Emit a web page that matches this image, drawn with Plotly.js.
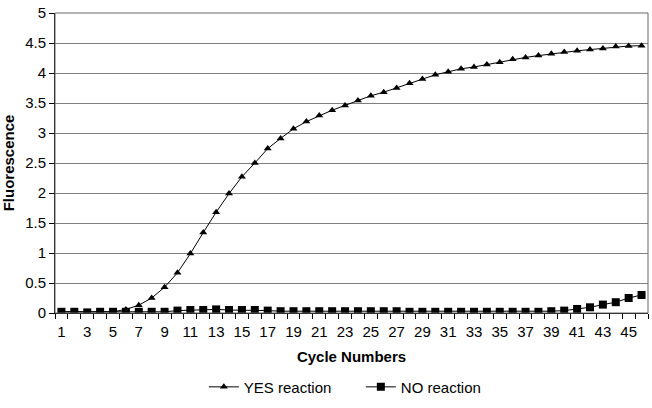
<!DOCTYPE html>
<html>
<head>
<meta charset="utf-8">
<script src="https://cdn.plot.ly/plotly-3.0.1.min.js"></script>
<style>html,body{margin:0;padding:0;background:#fff;}#chart{width:652px;height:408px;}</style>
</head>
<body>
<div id="chart"></div>
<script>
const cycles = [];
for (let i = 1; i <= 46; i++) cycles.push(i);

const yesReaction = [0.02,0.02,0.01,0.01,0.02,0.06,0.13,0.25,0.43,0.67,
  0.99,1.34,1.68,1.99,2.27,2.5,2.74,2.91,3.07,3.19,
  3.29,3.38,3.46,3.54,3.62,3.68,3.75,3.83,3.9,3.97,
  4.02,4.07,4.1,4.14,4.18,4.23,4.26,4.29,4.32,4.35,
  4.37,4.39,4.41,4.44,4.45,4.455];

const noReaction = [0.02,0.02,0.01,0.02,0.02,0.02,0.02,0.02,0.02,0.04,
  0.05,0.05,0.06,0.05,0.05,0.05,0.04,0.03,0.03,0.03,
  0.03,0.03,0.03,0.03,0.03,0.03,0.03,0.02,0.02,0.02,
  0.02,0.02,0.02,0.02,0.02,0.02,0.02,0.02,0.03,0.04,
  0.067,0.095,0.14,0.18,0.25,0.3];

const xTickVals = [1,3,5,7,9,11,13,15,17,19,21,23,25,27,29,31,33,35,37,39,41,43,45];
const xTickText = xTickVals.map(String);

const font = {family: 'Liberation Sans, Arial, sans-serif', size: 15, color: '#000'};

const traces = [
  {x: cycles, y: yesReaction, name: 'YES reaction', mode: 'lines+markers',
   line: {color: '#000', width: 1}, marker: {symbol: 'triangle-up', size: 7, color: '#000'}},
  {x: cycles, y: noReaction, name: 'NO reaction', mode: 'lines+markers',
   line: {color: '#000', width: 1}, marker: {symbol: 'square', size: 8, color: '#000'}}
];

const layout = {
  width: 652, height: 408,
  margin: {l: 55, r: 4, t: 13, b: 95},
  paper_bgcolor: '#fff', plot_bgcolor: '#fff',
  font: font,
  showlegend: true,
  legend: {orientation: 'h', x: 0.251, xanchor: 'left', y: -0.247, yanchor: 'middle',
           font: font, itemwidth: 30, entrywidth: 112, entrywidthmode: 'pixels', tracegroupgap: 0},
  xaxis: {
    range: [0.5, 46.5], tickvals: xTickVals, ticktext: xTickText,
    ticks: 'outside', ticklen: 5, tickcolor: 'rgba(0,0,0,0)',
    showgrid: false, zeroline: false,
    showline: true, linecolor: '#000', linewidth: 1, mirror: false,
    minor: {ticks: 'outside', tick0: 0.5, dtick: 1, ticklen: 5, tickcolor: '#000', showgrid: false},
    tickfont: font,
    title: {text: '<b>Cycle Numbers</b>', font: font, standoff: 12}
  },
  yaxis: {
    range: [0, 5], dtick: 0.5, ticks: 'outside', ticklen: 5, tickcolor: '#000',
    showgrid: true, gridcolor: '#808080', gridwidth: 1, zeroline: false,
    showline: true, linecolor: '#000', linewidth: 1,
    tickfont: font,
    title: {text: '<b>Fluorescence</b>', font: font, standoff: 6}
  },
  shapes: [
    {type: 'rect', xref: 'paper', yref: 'paper', x0: 0, x1: 1, y0: 0, y1: 1,
     line: {color: '#666', width: 1}, layer: 'above'}
  ]
};

Plotly.newPlot('chart', traces, layout, {displayModeBar: false, staticPlot: true});
</script>
</body>
</html>
